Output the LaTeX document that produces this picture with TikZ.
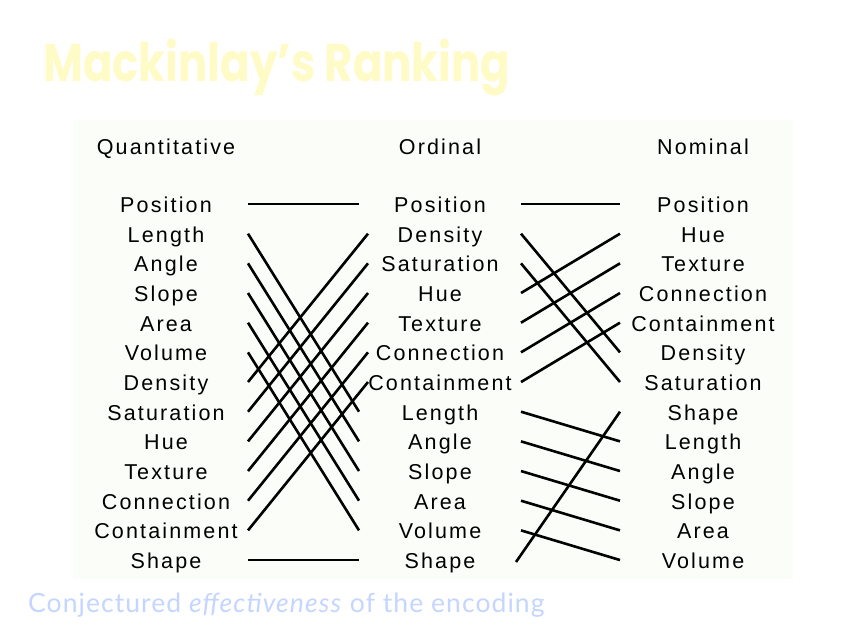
\documentclass[tikz,border=0pt]{standalone}
\usepackage{graphicx}
\usepackage{fontspec}
\setmainfont{Liberation Sans}[LetterSpace=10]
\newfontfamily\titlefont{Poppins}
\newfontfamily\capfont{Lato}[LetterSpace=4]
\definecolor{titlecol}{HTML}{FFFBC6}
\definecolor{capcol}{HTML}{C4D6FF}
\definecolor{panelcol}{HTML}{FBFDF8}
\begin{document}
\begin{tikzpicture}[x=1pt,y=-1pt,
  lbl/.style={anchor=base,inner sep=0pt,font=\fontsize{21.5}{24}\selectfont},
  link/.style={line width=2.6pt,black}]
\useasboundingbox (0,0) rectangle (856,638);
\fill[white] (0,0) rectangle (856,638);
\fill[panelcol] (73,120) rectangle (793,579);
\node[anchor=base west,inner sep=0pt,text=titlecol,font=\titlefont\bfseries\fontsize{53}{60}\selectfont] (title) at (43,81) {\scalebox{0.82}[1]{Mackinlay’s Ranking}};
\node[anchor=base west,inner sep=0pt,text=capcol,font=\capfont\fontsize{26.5}{30}\selectfont] (caption) at (28,612) {Conjectured \textit{effectiveness} of the encoding};
\node[lbl] (hq) at (166,154) {Quantitative};
\node[lbl] (ho) at (440,154) {Ordinal};
\node[lbl] (hn) at (703,154) {Nominal};
\foreach \t [count=\i from 0] in {Position,Length,Angle,Slope,Area,Volume,Density,Saturation,Hue,Texture,Connection,Containment,Shape}
  \node[lbl] (L\i) at (166,{204+29.67*\i+8.5}) {\t};
\foreach \t [count=\i from 0] in {Position,Density,Saturation,Hue,Texture,Connection,Containment,Length,Angle,Slope,Area,Volume,Shape}
  \node[lbl] (M\i) at (440,{204+29.67*\i+8.5}) {\t};
\foreach \t [count=\i from 0] in {Position,Hue,Texture,Connection,Containment,Density,Saturation,Shape,Length,Angle,Slope,Area,Volume}
  \node[lbl] (R\i) at (703,{204+29.67*\i+8.5}) {\t};
\foreach \i in {0,...,12}{
  \coordinate (a\i) at (248,{204+29.67*\i});
  \coordinate (b\i) at (359,{204+29.67*\i});
  \coordinate (bu\i) at (368,{204+29.67*\i});
  \coordinate (c\i) at (521,{204+29.67*\i});
  \coordinate (d\i) at (620,{204+29.67*\i});
}
% Quantitative -> Ordinal
\draw[link] (a0) -- (b0);
\foreach \i/\j in {1/7,2/8,3/9,4/10,5/11}
  \draw[link] (a\i) -- (b\j);
\foreach \i/\j in {6/1,7/2,8/3,9/4,10/5,11/6}
  \draw[link] (a\i) -- (bu\j);
\draw[link] (a12) -- (b12);
% Ordinal -> Nominal
\foreach \i/\j in {0/0,1/5,2/6,3/1,4/2,5/3,6/4,7/8,8/9,9/10,10/11,11/12}
  \draw[link] (c\i) -- (d\j);
\coordinate (c12s) at (516,562);
\draw[link] (c12s) -- (d7);
\end{tikzpicture}
\end{document}
